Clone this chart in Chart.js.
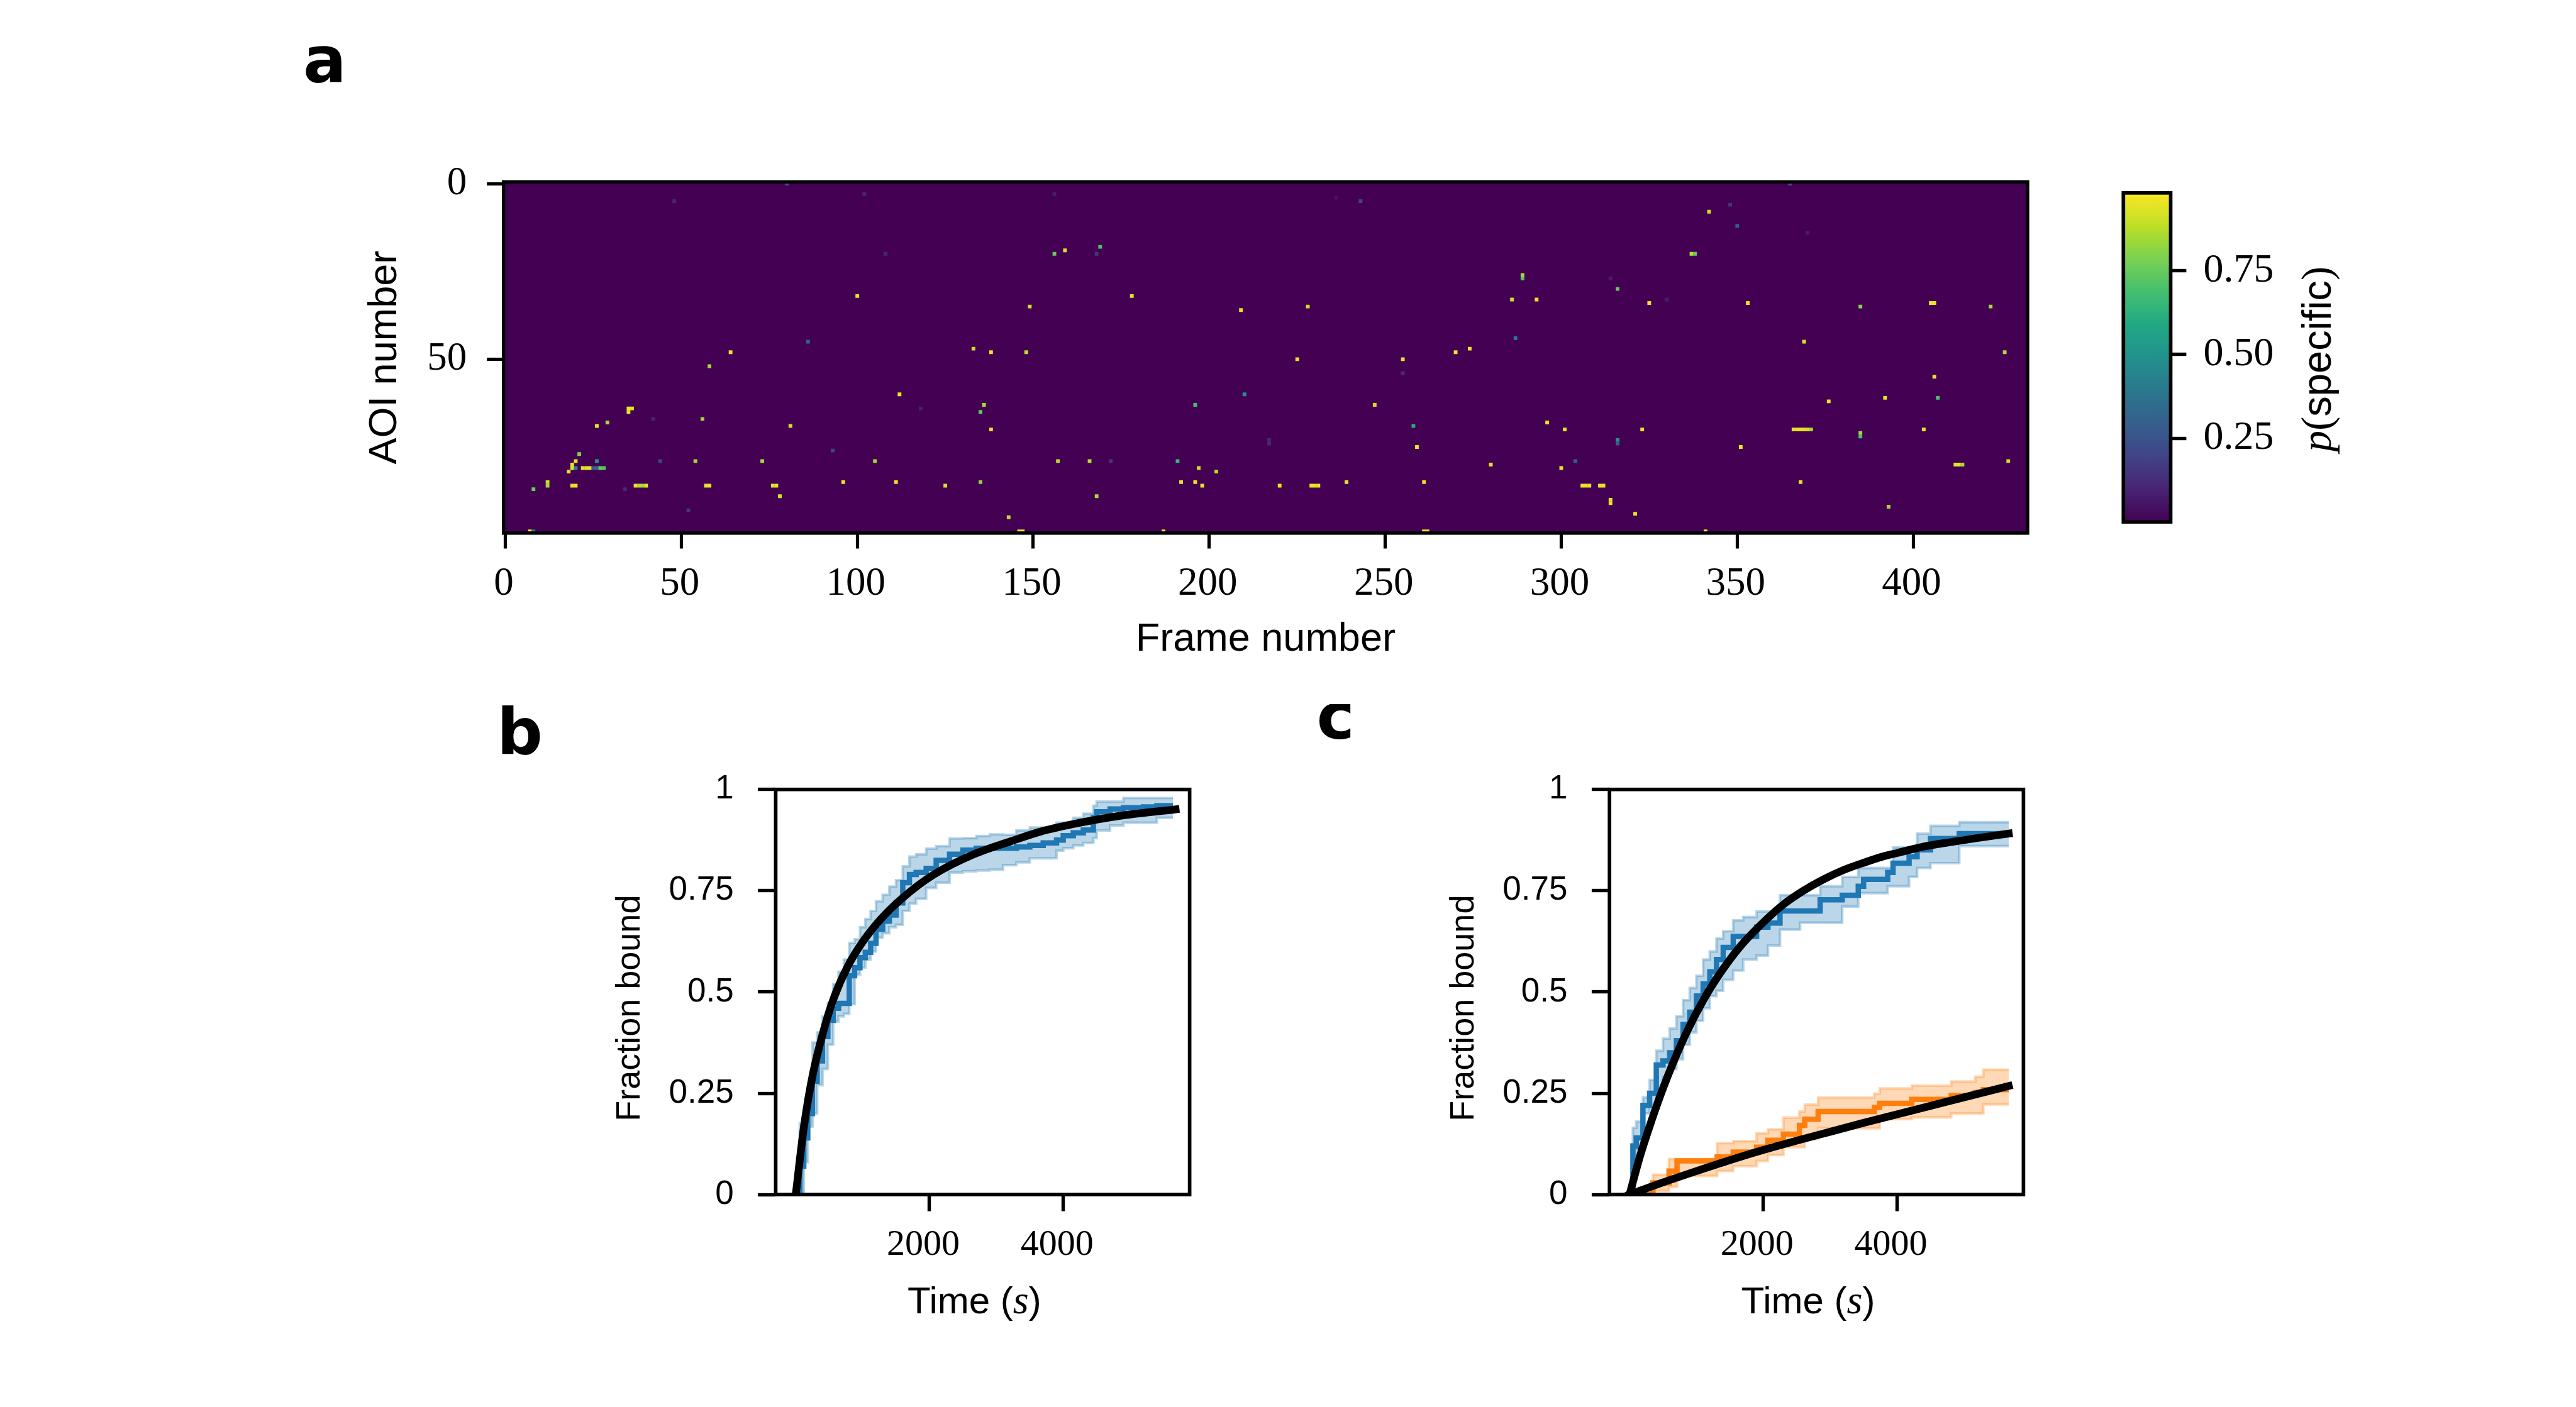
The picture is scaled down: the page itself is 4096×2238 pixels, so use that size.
<!DOCTYPE html>
<html><head><meta charset="utf-8">
<script src="https://cdn.jsdelivr.net/npm/chart.js@4.4.1/dist/chart.umd.min.js"></script>
<style>
html,body{margin:0;padding:0;background:#fff;}
#wrap{position:relative;width:4096px;height:2238px;overflow:hidden;background:#fff;}
canvas{position:absolute;}
</style></head><body>
<div id="wrap">
<canvas id="cA" width="3300" height="1100" style="left:0px;top:0px;width:3300px;height:1100px"></canvas>
<canvas id="cB" width="796" height="1100" style="left:3300px;top:0px;width:796px;height:1100px"></canvas>
<canvas id="cC" width="1280" height="1118" style="left:700px;top:1120px;width:1280px;height:1118px"></canvas>
<canvas id="cD" width="1300" height="1118" style="left:2000px;top:1120px;width:1300px;height:1118px"></canvas>
</div>
<script>
// ---------------- DATA ----------------
// Panel a: bright cells of the AOI x frame map (frame, AOI, p(specific)); all other cells ~0
const hmFrame = [80,102,48,108,100,86,64,133,138,58,112,35,36,35,136,135,118,56,42,29,26,81,138,93,21,20,26,44,54,73,105,19,19,20,22,23,24,25,26,27,28,18,12,12,8,19,20,37,38,39,40,57,58,76,77,78,96,111,125,135,34,52,143,7,8,
156,243,236,169,159,156,168,178,149,209,228,289,289,286,287,148,225,255,270,274,255,210,196,247,258,217,217,259,157,166,172,191,197,202,280,192,196,198,220,229,230,231,239,261,168,146,147,187,261,262,
365,348,342,350,370,337,338,314,316,293,325,330,353,385,405,406,422,369,426,406,376,392,407,296,301,323,366,367,368,369,370,371,385,385,403,316,316,351,304,300,427,412,413,414,306,307,308,311,312,368,314,314,321,393,341];
const hmAOI = [0,3,5,20,32,45,48,47,48,52,60,64,64,65,63,65,64,67,67,68,69,69,70,76,77,79,79,79,79,79,79,80,81,81,81,81,81,81,81,81,81,82,85,86,87,86,86,86,86,86,86,86,86,86,86,89,85,85,86,85,87,93,95,99,99,
3,5,4,18,19,20,20,32,35,36,35,26,27,33,44,48,50,50,48,47,54,60,63,63,69,73,74,75,79,79,79,79,81,82,80,85,85,86,86,86,86,86,85,85,89,99,99,99,99,99,
0,6,8,12,14,20,20,27,30,33,34,33,34,35,34,34,35,45,48,55,62,61,61,68,70,70,70,70,70,70,70,70,71,72,70,73,74,75,79,81,79,80,80,80,86,86,86,86,86,85,90,91,94,92,99];
const hmValue = [0.25,0.1,0.1,0.1,0.95,0.3,0.95,0.9,0.95,0.85,0.95,0.95,0.95,0.95,0.85,0.75,0.08,0.85,0.1,0.85,0.95,0.92,0.95,0.2,0.8,0.95,0.5,0.2,0.85,0.85,0.85,0.95,0.95,0.45,0.95,0.95,0.95,0.3,0.35,0.75,0.72,0.95,0.9,0.85,0.75,0.95,0.95,0.95,0.88,0.85,0.95,0.95,0.95,0.95,0.95,0.92,0.95,0.95,0.92,0.82,0.1,0.15,0.88,0.95,0.4,
0.08,0.2,0.05,0.7,0.92,0.75,0.15,0.95,0.9,0.95,0.9,0.85,0.72,0.9,0.4,0.88,0.95,0.95,0.95,0.95,0.12,0.5,0.68,0.9,0.6,0.1,0.1,0.95,0.88,0.88,0.15,0.65,0.9,0.88,0.95,0.95,0.95,0.95,0.95,0.95,0.95,0.95,0.95,0.95,0.85,0.95,0.95,0.95,0.95,0.95,
0.25,0.15,0.9,0.3,0.08,0.88,0.75,0.08,0.75,0.95,0.95,0.08,0.95,0.8,0.95,0.95,0.85,0.92,0.85,0.95,0.95,0.95,0.7,0.95,0.95,0.95,0.95,0.95,0.95,0.95,0.92,0.85,0.85,0.7,0.95,0.5,0.3,0.95,0.3,0.95,0.9,0.95,0.95,0.85,0.95,0.95,0.95,0.95,0.95,0.95,0.95,0.95,0.95,0.85,0.95];
const hmFrameRange = [-0.5, 432.5];
const hmAOIRange = [-0.5, 99.5];
const hmXTicks = [0,50,100,150,200,250,300,350,400];
const hmYTicks = [0,50];
const cbRange = [0, 0.983];
const cbTicks = [0.25,0.5,0.75];
const cbTickLabels = ['0.25','0.50','0.75'];

// Panel b: fraction bound vs time (s)
const bT    = [0,60,120,180,250,320,400,480,560,640,720,800,880,960,1040,1120,1200,1300,1400,1500,1600,1700,1800,1950,2100,2300,2500,2700,2900,3100,3300,3500,3700,3900,4000,4150,4300,4450,4500,4700,4900,5200,5400,5640];
const bMean = [0,0.07,0.14,0.2,0.28,0.33,0.39,0.43,0.46,0.472,0.472,0.54,0.56,0.585,0.598,0.62,0.655,0.675,0.69,0.72,0.77,0.79,0.795,0.805,0.825,0.84,0.85,0.855,0.855,0.855,0.858,0.862,0.868,0.875,0.886,0.893,0.9,0.93,0.945,0.952,0.955,0.957,0.96,0.96];
const bHigh = [0.01,0.175,0.2,0.26,0.375,0.4,0.44,0.472,0.52,0.55,0.58,0.621,0.63,0.66,0.68,0.7,0.724,0.74,0.76,0.776,0.81,0.834,0.84,0.854,0.86,0.879,0.88,0.885,0.889,0.888,0.899,0.906,0.906,0.918,0.918,0.93,0.94,0.96,0.97,0.97,0.979,0.979,0.979,0.979];
const bLow  = [0,0,0.08,0.168,0.2,0.27,0.31,0.37,0.427,0.44,0.446,0.47,0.543,0.56,0.58,0.6,0.634,0.645,0.66,0.666,0.7,0.718,0.73,0.757,0.77,0.795,0.798,0.8,0.802,0.813,0.82,0.83,0.83,0.849,0.855,0.862,0.868,0.88,0.899,0.911,0.918,0.918,0.93,0.93];
const bFitT = [0,123,257,420,569,777,1015,1283,1610,2056,2650,3216,3662,4256,4851,5680];
const bFitV = [0,0.168,0.298,0.407,0.485,0.563,0.627,0.682,0.734,0.789,0.839,0.872,0.896,0.918,0.935,0.951];

// Panel c: blue series
const cT    = [0,50,100,200,300,400,500,600,700,800,900,1000,1100,1200,1300,1400,1550,1700,1900,2070,2250,2550,2850,3180,3420,3500,3860,3940,4180,4300,4500,4930,5670];
const cMean = [0,0.12,0.14,0.22,0.25,0.32,0.33,0.35,0.38,0.42,0.45,0.49,0.52,0.55,0.58,0.61,0.637,0.637,0.66,0.67,0.70,0.70,0.7275,0.739,0.761,0.778,0.795,0.818,0.834,0.851,0.879,0.891,0.891];
const cHigh = [0.01,0.165,0.18,0.24,0.283,0.355,0.385,0.41,0.44,0.48,0.51,0.54,0.58,0.6,0.632,0.65,0.677,0.685,0.699,0.699,0.739,0.739,0.761,0.784,0.806,0.806,0.806,0.857,0.857,0.891,0.91,0.919,0.919];
const cLow  = [0,0.08,0.11,0.2,0.22,0.26,0.29,0.31,0.334,0.37,0.4,0.429,0.46,0.49,0.503,0.53,0.553,0.58,0.59,0.615,0.654,0.671,0.671,0.711,0.744,0.744,0.761,0.761,0.784,0.806,0.818,0.86,0.86];
const cFitT = [0,155,334,493,653,872,1100,1300,1500,1700,2000,2300,2600,2900,3200,3500,3800,4000,4400,4800,5200,5670];
const cFitV = [0,0.094,0.185,0.259,0.326,0.407,0.479,0.533,0.58,0.621,0.672,0.716,0.75,0.778,0.801,0.819,0.835,0.843,0.859,0.870,0.880,0.891];
// Panel c: orange series
const oT    = [0,350,590,710,750,1310,1550,1900,2070,2300,2540,2620,2820,3660,3740,4220,4810,5170,5290,5670];
const oMean = [0,0.029,0.058,0.083,0.083,0.0927,0.105,0.117,0.134,0.149,0.171,0.186,0.205,0.215,0.225,0.235,0.244,0.252,0.259,0.259];
const oHigh = [0.01,0.049,0.0877,0.0877,0.0877,0.127,0.132,0.1514,0.161,0.19,0.205,0.222,0.2396,0.249,0.2617,0.269,0.2788,0.291,0.308,0.308];
const oLow  = [0,0.009,0.019,0.046,0.046,0.058,0.07,0.083,0.0975,0.117,0.117,0.137,0.1637,0.1637,0.186,0.1906,0.2,0.2,0.2225,0.2225];
const oFitT = [0,500,1000,1500,2000,2500,3000,3500,4000,4500,5000,5670];
const oFitV = [0,0.03,0.058,0.085,0.11,0.133,0.155,0.177,0.198,0.219,0.24,0.268];

const timeRange = [-300, 5890];
const timeTicks = [2000, 4000];
const fracTicks = [0, 0.25, 0.5, 0.75, 1];
const fracTickLabels = ['0', '0.25', '0.5', '0.75', '1'];

// ---------------- STYLE HELPERS ----------------
const SANS = "'Liberation Sans', Arial, sans-serif";
const SERIF = "'Liberation Serif', 'Times New Roman', serif";
const LETTER = "'DejaVu Sans', sans-serif";
const C0 = '#1f77b4', C1 = '#ff7f0e';
const C0A = 'rgba(31,119,180,0.3)', C1A = 'rgba(255,127,14,0.3)';
const VIRIDIS = ['#440154','#482475','#414487','#355f8d','#2a788e','#21918c','#22a884','#44bf70','#7ad151','#bddf26','#fde725'];
function hexRgb(h){return [parseInt(h.slice(1,3),16),parseInt(h.slice(3,5),16),parseInt(h.slice(5,7),16)];}
function viridis(t){
  t = Math.max(0, Math.min(1, t));
  const p = t * 10, i = Math.min(9, Math.floor(p)), f = p - i;
  const a = hexRgb(VIRIDIS[i]), b = hexRgb(VIRIDIS[i+1]);
  return 'rgb(' + a.map((v,k)=>Math.round(v + (b[k]-v)*f)).join(',') + ')';
}
const pts = (xs, ys) => xs.map((x,i)=>({x:x, y:ys[i]}));

function framePlugin(lw){
  return {id:'frame', afterDatasetsDraw(chart){
    const {ctx, chartArea:a} = chart;
    ctx.save(); ctx.strokeStyle='#000'; ctx.lineWidth=lw; ctx.lineJoin='miter';
    ctx.strokeRect(a.left, a.top, a.right-a.left, a.bottom-a.top); ctx.restore();
  }};
}
function drawRuns(ctx, runs, x, y, rot, align){
  ctx.save();
  let total = 0;
  const ws = runs.map(r=>{ctx.font=r.font; const w=ctx.measureText(r.text).width; total+=w; return w;});
  ctx.translate(x, y); ctx.rotate(rot||0);
  let cx = align === 'left' ? 0 : -total/2;
  ctx.fillStyle='#000'; ctx.textBaseline='alphabetic'; ctx.textAlign='left';
  runs.forEach((r,i)=>{ctx.font=r.font; ctx.fillText(r.text, cx, 0); cx+=ws[i];});
  ctx.restore();
}
function textPlugin(items){
  return {id:'texts', afterDraw(chart){
    const a = chart.chartArea;
    items.forEach(it=>{const p = it.pos(a); drawRuns(chart.ctx, it.runs, p[0], p[1], it.rot, it.align);});
  }};
}
const bgPlugin = {id:'bg', beforeDatasetsDraw(chart){
  const {ctx, chartArea:a} = chart; ctx.save(); ctx.fillStyle = viridis(0);
  ctx.fillRect(a.left, a.top, a.right-a.left, a.bottom-a.top); ctx.restore();
}};
const gradPlugin = {id:'grad', beforeDatasetsDraw(chart){
  const {ctx, chartArea:a} = chart; const g = ctx.createLinearGradient(0, a.bottom, 0, a.top);
  VIRIDIS.forEach((c,i)=>g.addColorStop(i/(VIRIDIS.length-1), c));
  ctx.save(); ctx.fillStyle=g; ctx.fillRect(a.left, a.top, a.right-a.left, a.bottom-a.top); ctx.restore();
}};
function cellRadius(chart){
  const s = chart.scales.x;
  const side = Math.abs(s.getPixelForValue(1) - s.getPixelForValue(0));
  return (side + 0.3) / Math.SQRT2;
}
const common = {responsive:false, animation:false, devicePixelRatio:1, events:[],
  plugins:{legend:{display:false}, tooltip:{enabled:false}}};
function tickGrid(len, w){ return {display:true, drawOnChartArea:false, drawTicks:true, tickLength:len, tickWidth:w, tickColor:'#000'}; }

// ---------------- PANEL a: heatmap ----------------
new Chart(document.getElementById('cA'), {
  type:'scatter',
  data:{datasets:[{
    data: pts(hmFrame, hmAOI),
    pointStyle:'rect', pointBorderWidth:0, borderWidth:0,
    pointRadius: ctx=>cellRadius(ctx.chart),
    pointBackgroundColor: ctx=>viridis(hmValue[ctx.dataIndex]/cbRange[1]),
    backgroundColor: ctx=>viridis(hmValue[ctx.dataIndex]/cbRange[1])
  }]},
  options:Object.assign({}, common, {
    layout:{padding:{left:550.7, right:76, top:289.3, bottom:32.1}},
    scales:{
      x:{type:'linear', min:hmFrameRange[0], max:hmFrameRange[1],
        afterBuildTicks:s=>{s.ticks = hmXTicks.map(v=>({value:v}));},
        afterFit:s=>{s.height = 220;},
        border:{display:false}, grid:tickGrid(24.6, 5.2),
        ticks:{autoSkip:false, maxRotation:0, minRotation:0, padding:19.4, labelOffset:-2.5, color:'#000', font:{family:SERIF, size:63}, callback:v=>String(v)},
        title:{display:true, text:'Frame number', color:'#000', font:{family:SANS, size:63}, padding:{top:0, bottom:12.5}}},
      y:{type:'linear', reverse:true, min:hmAOIRange[0], max:hmAOIRange[1],
        afterBuildTicks:s=>{s.ticks = hmYTicks.map(v=>({value:v}));},
        afterFit:s=>{s.width = 250;},
        border:{display:false}, grid:tickGrid(26.5, 5.2),
        ticks:{autoSkip:false, padding:32, color:'#000', font:{family:SERIF, size:63}, callback:v=>String(v)},
        title:{display:true, text:'AOI number', color:'#000', font:{family:SANS, size:63}, padding:{top:23.9, bottom:0}}}
    }
  }),
  plugins:[bgPlugin, framePlugin(5.4), textPlugin([
    {runs:[{text:'a', font:'bold 102px ' + LETTER}], pos:a=>[482, 130.6], align:'left'}
  ])]
});

// ---------------- colorbar ----------------
new Chart(document.getElementById('cB'), {
  type:'scatter',
  data:{datasets:[]},
  options:Object.assign({}, common, {
    layout:{padding:{left:76.3, right:244.5, top:306.8, bottom:269.9}},
    scales:{
      x:{type:'linear', display:false, min:0, max:1},
      y:{type:'linear', position:'right', min:cbRange[0], max:cbRange[1],
        afterBuildTicks:s=>{s.ticks = cbTicks.map(v=>({value:v}));},
        afterFit:s=>{s.width = 400;},
        border:{display:false}, grid:tickGrid(24.9, 5.4),
        ticks:{autoSkip:false, padding:27, color:'#000', font:{family:SERIF, size:64}, callback:(v,i)=>cbTickLabels[i]}}
    }
  }),
  plugins:[gradPlugin, framePlugin(5.7), textPlugin([
    {runs:[{text:'p', font:'italic 67px ' + SERIF}, {text:'(', font:'67px ' + SERIF}, {text:'specific', font:'65px ' + SANS}, {text:')', font:'67px ' + SERIF}],
     pos:a=>[a.right + 254.4, (a.top + a.bottom)/2 + 2.6], rot:-Math.PI/2, align:'center'}
  ])]
});

// ---------------- PANELS b and c ----------------
function bandSets(T, hi, lo, fillCol){
  return [
    {data:pts(T, hi), stepped:true, borderColor:fillCol, borderWidth:4.2, backgroundColor:fillCol, fill:'+1', pointRadius:0, order:2},
    {data:pts(T, lo), stepped:true, borderColor:fillCol, borderWidth:4.2, fill:false, pointRadius:0, order:2}
  ];
}
function meanSet(T, m, col){ return {data:pts(T, m), stepped:true, borderColor:col, borderWidth:8.5, fill:false, pointRadius:0, order:1}; }
function fitSet(T, v){ return {data:pts(T, v), borderColor:'#000', borderWidth:12.3, cubicInterpolationMode:'monotone', borderCapStyle:'square', fill:false, pointRadius:0, order:0}; }

function fracOptions(padLeft, padRight){
  return Object.assign({}, common, {
    layout:{padding:{left:padLeft, right:padRight, top:135.7, bottom:87.9}},
    scales:{
      x:{type:'linear', min:timeRange[0], max:timeRange[1],
        afterBuildTicks:s=>{s.ticks = timeTicks.map(v=>({value:v}));},
        afterFit:s=>{s.height = 250;},
        border:{display:false}, grid:tickGrid(26.5, 5.4),
        ticks:{autoSkip:false, maxRotation:0, minRotation:0, padding:19.5, labelOffset:-10, color:'#000', font:{family:SERIF, size:58}, callback:v=>String(v)}},
      y:{type:'linear', min:0, max:1,
        afterBuildTicks:s=>{s.ticks = fracTicks.map(v=>({value:v}));},
        afterFit:s=>{s.width = 300;},
        border:{display:false}, grid:tickGrid(28.3, 5.4),
        ticks:{autoSkip:false, padding:38.4, color:'#000', font:{family:SANS, size:53}, callback:(v,i)=>fracTickLabels[i]}}
    }
  });
}
function fracTexts(letter, lx, ly){
  return textPlugin([
    {runs:[{text:'Fraction bound', font:'54px ' + SANS}], pos:a=>[a.left - 216.3, a.top + 348.0], rot:-Math.PI/2, align:'center'},
    {runs:[{text:'Time (', font:'60px ' + SANS}, {text:'s', font:'italic 64px ' + SERIF}, {text:')', font:'60px ' + SANS}],
     pos:a=>[(a.left + a.right)/2 - 13.2, a.bottom + 188.6], rot:0, align:'center'},
    {runs:[{text:letter, font:'bold 102px ' + LETTER}], pos:a=>[lx, ly], align:'left'}
  ]);
}

new Chart(document.getElementById('cC'), {
  type:'line',
  data:{datasets:[fitSet(bFitT, bFitV), meanSet(bT, bMean, C0)].concat(bandSets(bT, bHigh, bLow, C0A))},
  options:fracOptions(233.4, 88.4),
  plugins:[framePlugin(5.7), fracTexts('b', 90, 78.5)]
});

new Chart(document.getElementById('cD'), {
  type:'line',
  data:{datasets:[fitSet(cFitT, cFitV), fitSet(oFitT, oFitV), meanSet(cT, cMean, C0), meanSet(oT, oMean, C1)]
        .concat(bandSets(cT, cHigh, cLow, C0A)).concat(bandSets(oT, oHigh, oLow, C1A))},
  options:fracOptions(259.2, 82.6),
  plugins:[framePlugin(5.7), fracTexts('c', 93.4, 55)]
});
</script>
</body></html>
